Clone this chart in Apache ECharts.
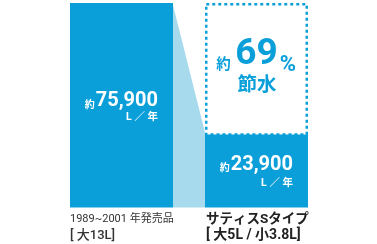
<!DOCTYPE html>
<html><head><meta charset="utf-8">
<script src="https://cdn.jsdelivr.net/npm/echarts@6/dist/echarts.min.js"></script>
<style>html,body{margin:0;padding:0;background:#fff}#c{width:377px;height:244px}</style>
</head><body><div id="c"></div>
<script>
const categories = ['1989~2001 年発売品', 'サティスSタイプ'];
const subLabels = ['[ 大13L]', '[ 大5L / 小3.8L]'];
const usage = [75900, 23900];
const valueLabels = ['75,900', '23,900'];
const unitLabel = 'L ／ 年';
const savingPercent = '69';
const savingText = '節水';
const yMin = -5000, yMax = 75900;

const BLUE = '#0a9fd9';
const LIGHT = '#a8daee';
const BAR_W = 103;
const FONT = "Roboto, 'Noto Sans CJK JP', sans-serif";
const chart = echarts.init(document.getElementById('c'));

function txt(text, x, y, size, color, align, weight) {
  return {type: 'text', style: {text: text, x: x, y: y, align: align || 'center', verticalAlign: 'middle',
    fontSize: size, fontWeight: weight || 'bold', fill: color, fontFamily: FONT}};
}

function barItem(params, api) {
  const idx = params.dataIndex;
  const i = api.value(0), v = api.value(1);
  const top = api.coord([i, v]);
  const bot = api.coord([i, yMin]);
  const hw = BAR_W / 2;
  const x0 = top[0] - hw, x1 = top[0] + hw;
  const cy = (top[1] + bot[1]) / 2;
  const ch = [];
  ch.push({type: 'rect', shape: {x: x0, y: top[1], width: BAR_W, height: bot[1] - top[1]}, style: {fill: BLUE}});
  ch.push({type: 'text', style: {
    text: '{s|約}{b|' + valueLabels[idx] + '}', x: x1 - 15, y: cy - 4 - (idx ? 2 : 0), align: 'right', verticalAlign: 'middle',
    rich: {
      s: {fontSize: 10, fontWeight: 'bold', fill: '#fff', fontFamily: FONT, verticalAlign: 'bottom', padding: [0, 1, 1, 0]},
      b: {fontSize: 20, fontWeight: 'bold', fill: '#fff', fontFamily: FONT, verticalAlign: 'bottom'}
    }}});
  ch.push(txt(unitLabel, x1 - 15, cy + 12, 10.5, '#fff', 'right'));
  ch.push(txt(categories[idx], x0 + (idx ? 1 : 0), bot[1] + 12, idx ? 13.5 : 11, idx ? '#222' : '#333', 'left', idx ? 'bold' : 'normal'));
  ch.push(txt(subLabels[idx], x0 + (idx ? 1 : 0), bot[1] + 28, idx ? 14 : 13, idx ? '#222' : '#333', 'left', idx ? 'bold' : 500));
  if (idx === 1) {
    const bt = api.coord([i, usage[0]]);
    const lw = 2.5;
    ch.push({type: 'rect', shape: {x: x0 + lw / 2, y: bt[1] + lw / 2, width: BAR_W - lw, height: top[1] - bt[1] - lw / 2},
      style: {fill: 'none', stroke: BLUE, lineWidth: lw, lineDash: [3, 3]}});
    const bcy = (bt[1] + top[1]) / 2;
    const cx = top[0];
    ch.push(txt('約', cx - 33, bcy - 3, 14.5, BLUE));
    ch.push(txt(savingPercent, cx, bcy - 14, 37, BLUE));
    ch.push(txt('%', cx + 31.5, bcy - 3, 22, BLUE));
    ch.push(txt(savingText, cx + 0.5, bcy + 17.5, 19.5, BLUE));
  }
  return {type: 'group', children: ch};
}

function connectorItem(params, api) {
  const hw = BAR_W / 2;
  const a = api.coord([0, usage[0]]);
  const b = api.coord([1, usage[1]]);
  const a0 = api.coord([0, yMin]);
  const b0 = api.coord([1, yMin]);
  return {type: 'polygon', shape: {points: [[a[0] + hw - 0.5, a[1]], [b[0] - hw + 0.5, b[1]], [b0[0] - hw + 0.5, b0[1]], [a0[0] + hw - 0.5, a0[1]]]},
    style: {fill: LIGHT}};
}

chart.setOption({
  animation: false,
  grid: {left: 54, right: 53, top: 3, bottom: 36.5},
  xAxis: {type: 'category', data: categories, show: false},
  yAxis: {type: 'value', min: yMin, max: yMax, show: false},
  series: [
    {type: 'custom', renderItem: connectorItem, data: [[0, usage[0]]], z: 1, silent: true},
    {type: 'custom', renderItem: barItem, data: usage.map((v, i) => [i, v]), z: 2, silent: true}
  ]
});
</script></body></html>
